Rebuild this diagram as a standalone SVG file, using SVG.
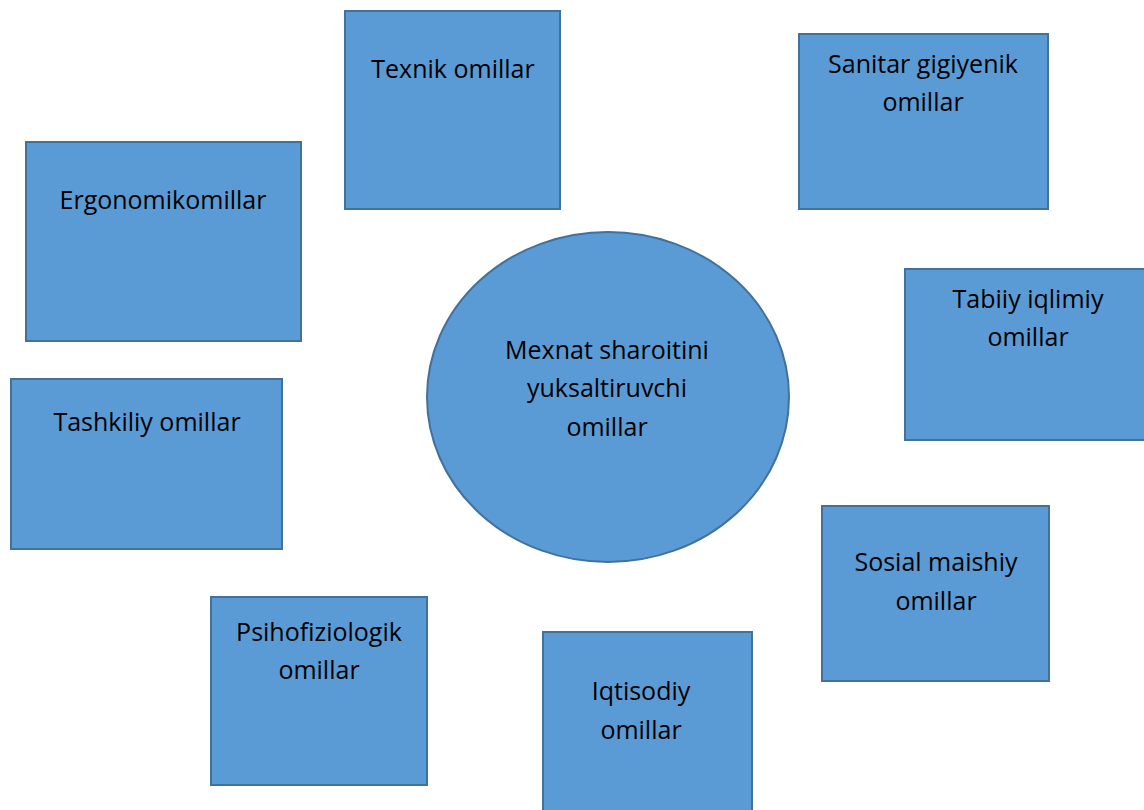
<svg xmlns="http://www.w3.org/2000/svg" width="1144" height="810" viewBox="0 0 1144 810">
<style>
.n{fill:#5B9BD5;stroke:#41719C;stroke-width:2}
.t{font-family:"Open Sans","Noto Sans",sans-serif;font-size:25px;fill:#000;text-anchor:middle}
</style>
<rect width="1144" height="810" fill="#fff"/>
<g id="connectors"></g>
<g id="texnik"><rect class="n" x="345" y="11" width="215" height="198"/><text class="t" x="453" y="78">Texnik omillar</text></g>
<g id="sanitar"><rect class="n" x="799" y="34" width="249" height="175"/><text class="t" x="923" y="73">Sanitar gigiyenik</text><text class="t" x="923" y="111">omillar</text></g>
<g id="ergonomik"><rect class="n" x="26" y="142" width="275" height="199"/><text class="t" x="163" y="209">Ergonomikomillar</text></g>
<g id="tabiiy"><rect class="n" x="905" y="269" width="241" height="171"/><text class="t" x="1028" y="308">Tabiiy iqlimiy</text><text class="t" x="1028" y="346">omillar</text></g>
<g id="center"><ellipse class="n" cx="608" cy="397" rx="181" ry="165"/><text class="t" x="607" y="359">Mexnat sharoitini</text><text class="t" x="607" y="397">yuksaltiruvchi</text><text class="t" x="607" y="436">omillar</text></g>
<g id="tashkiliy"><rect class="n" x="11" y="379" width="271" height="170"/><text class="t" x="147" y="431">Tashkiliy omillar</text></g>
<g id="sosial"><rect class="n" x="822" y="506" width="227" height="175"/><text class="t" x="936" y="571">Sosial maishiy</text><text class="t" x="936" y="610">omillar</text></g>
<g id="psiho"><rect class="n" x="211" y="597" width="216" height="188"/><text class="t" x="319" y="641">Psihofiziologik</text><text class="t" x="319" y="679">omillar</text></g>
<g id="iqtisodiy"><rect class="n" x="543" y="632" width="209" height="190"/><text class="t" x="641" y="700">Iqtisodiy</text><text class="t" x="641" y="739">omillar</text></g>
</svg>
